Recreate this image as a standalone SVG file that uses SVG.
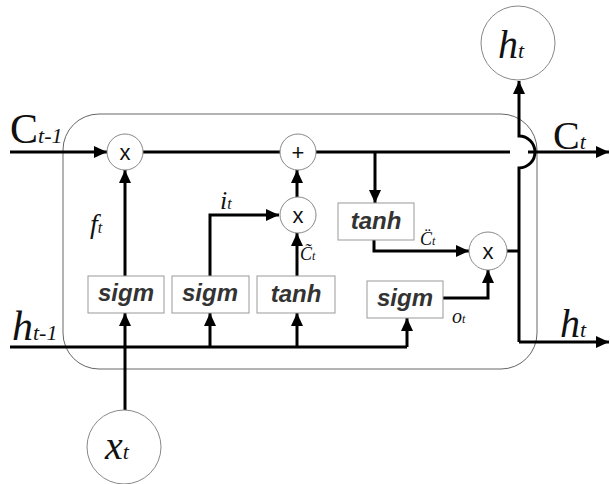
<svg xmlns="http://www.w3.org/2000/svg" width="610" height="484" viewBox="0 0 610 484">
<defs>
<marker id="ah" markerUnits="userSpaceOnUse" markerWidth="14" markerHeight="12" refX="13" refY="6" orient="auto">
<path d="M0,0 L13,6 L0,12 z" fill="#000"/>
</marker>
<style>
.w{fill:none;stroke:#000;stroke-width:3}
.a{marker-end:url(#ah)}
.c{fill:#fff;stroke:#888;stroke-width:1}
.b{fill:#fff;stroke:#999;stroke-width:1}
.bt{font-family:"Liberation Sans",Arial,sans-serif;font-weight:bold;font-style:italic;font-size:24px;fill:#333;text-anchor:middle}
.op{font-family:"Liberation Sans",Arial,sans-serif;font-size:22px;fill:#111;text-anchor:middle}
.lb{font-family:"Liberation Serif","Times New Roman",serif;fill:#111}
.it{font-style:italic}
</style>
</defs>
<rect x="63" y="114" width="474" height="255" rx="36" ry="36" fill="none" stroke="#666" stroke-width="1"/>
<g id="connectors">
<path class="w a" d="M10,152 H107"/>
<path class="w" d="M143,152 H280"/>
<path class="w" d="M316,152 H510"/>
<path class="w a" d="M528,152 H609"/>
<path class="w a" d="M375,152 V203"/>
<path class="w a" d="M374,240 V251 H469"/>
<path class="w" d="M507,251 H519"/>
<path class="w a" d="M519,342 V168 A16,16 0 0 0 519,136 V81"/>
<path class="w a" d="M519,342 H609"/>
<path class="w" d="M10,347 H407"/>
<path class="w a" d="M210,347 V313"/>
<path class="w a" d="M297,347 V313"/>
<path class="w a" d="M407,347 V318"/>
<path class="w a" d="M125,410 V313"/>
<path class="w a" d="M125,276 V170"/>
<path class="w a" d="M210,276 V215 H279"/>
<path class="w a" d="M297,276 V233"/>
<path class="w a" d="M297,197 V170"/>
<path class="w a" d="M443,298 H488 V270"/>
</g>
<g id="mul1"><circle class="c" cx="125" cy="152" r="18"/><text class="op" x="125" y="160">x</text></g>
<g id="add"><circle class="c" cx="298" cy="152" r="18"/><text class="op" x="298" y="160">+</text></g>
<g id="mul2"><circle class="c" cx="298" cy="215" r="18"/><text class="op" x="298" y="223">x</text></g>
<g id="mul3"><circle class="c" cx="488" cy="251" r="19"/><text class="op" x="488" y="259">x</text></g>
<g id="tanh1"><rect class="b" x="338" y="203" width="76" height="37"/><text class="bt" x="376" y="229">tanh</text></g>
<g id="sigm1"><rect class="b" x="88" y="276" width="76" height="37"/><text class="bt" x="126" y="301">sigm</text></g>
<g id="sigm2"><rect class="b" x="172" y="276" width="77" height="37"/><text class="bt" x="210" y="301">sigm</text></g>
<g id="tanh2"><rect class="b" x="257" y="276" width="78" height="37"/><text class="bt" x="296" y="302">tanh</text></g>
<g id="sigm3"><rect class="b" x="367" y="281" width="76" height="37"/><text class="bt" x="405" y="306">sigm</text></g>
<g id="ht_out"><circle class="c" cx="518" cy="43" r="37"/><text class="lb" x="498" y="58"><tspan class="it" font-size="40">h</tspan><tspan class="it" font-size="22">t</tspan></text></g>
<g id="xt"><circle class="c" cx="124" cy="447" r="37"/><text class="lb" x="105" y="459"><tspan class="it" font-size="40">x</tspan><tspan class="it" font-size="22">t</tspan></text></g>
<g id="labels">
<text class="lb" x="10" y="143"><tspan font-size="42">C</tspan><tspan class="it" font-size="22">t-1</tspan></text>
<text class="lb" x="12" y="340"><tspan class="it" font-size="42">h</tspan><tspan class="it" font-size="22">t-1</tspan></text>
<text class="lb" x="553" y="149"><tspan font-size="40">C</tspan><tspan class="it" font-size="22">t</tspan></text>
<text class="lb" x="560" y="337"><tspan class="it" font-size="40">h</tspan><tspan class="it" font-size="22">t</tspan></text>
<text class="lb" x="90" y="233"><tspan class="it" font-size="28">f</tspan><tspan class="it" font-size="16">t</tspan></text>
<text class="lb" x="220" y="209"><tspan class="it" font-size="26">i</tspan><tspan class="it" font-size="16">t</tspan></text>
<text class="lb" x="300" y="260"><tspan class="it" font-size="18">C̃</tspan><tspan class="it" font-size="12">t</tspan></text>
<text class="lb" x="420" y="245"><tspan class="it" font-size="18">C̈</tspan><tspan class="it" font-size="12">t</tspan></text>
<text class="lb" x="452" y="323"><tspan class="it" font-size="20">o</tspan><tspan class="it" font-size="12">t</tspan></text>
</g>
</svg>
